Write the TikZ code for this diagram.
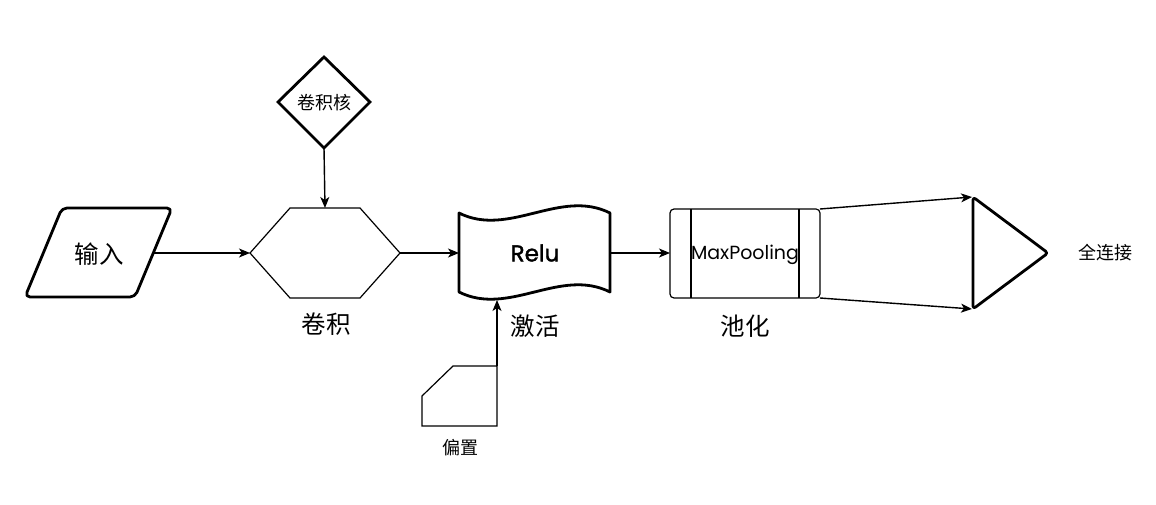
\documentclass[tikz,border=0pt]{standalone}
\usepackage{fontspec}
\setmainfont{Noto Sans CJK SC}
\newfontfamily\latinfont{Poppins}
\newfontfamily\relufont[FakeBold=1.5]{Poppins}
\usetikzlibrary{arrows.meta}
\begin{document}
\begin{tikzpicture}[x=1pt,y=-1pt,
  thickshape/.style={draw=black,line width=2.8pt,line join=round},
  thinshape/.style={draw=black,line width=1.2pt},
  conn/.style={draw=black,line width=1.4pt,-{Stealth[length=11pt,width=9pt,inset=3pt]}},
  biglabel/.style={font=\fontsize{24.5}{27}\selectfont,inner sep=0pt},
  smalllabel/.style={font=\fontsize{18}{20}\selectfont,inner sep=0pt}
]
\useasboundingbox (0,0) rectangle (1156,505);
\fill[white] (0,0) rectangle (1156,505);

% input parallelogram
\draw[thickshape,rounded corners=5pt] (62,208) -- (172,208) -- (135,297) -- (25,297) -- cycle;
\node[biglabel] (inp) at (99,254) {输入};
\coordinate (inpE) at (153,253);

% kernel diamond
\draw[thickshape,line join=miter] (324,57) -- (370,102) -- (324,148) -- (278,102) -- cycle;
\node[smalllabel] (ker) at (324,103) {卷积核};
\coordinate (kerS) at (324,148);

% convolution hexagon
\draw[thinshape] (250,253) -- (290,208) -- (360,208) -- (400,253) -- (360,298) -- (290,298) -- cycle;
\coordinate (convW) at (250,253);
\coordinate (convE) at (400,253);
\coordinate (convN) at (325,208);
\node[biglabel] (convlab) at (326,324) {卷积};

% relu tape
\draw[thickshape] (459,213) .. controls (509,238) and (560,188) .. (610,213)
  -- (610,292) .. controls (560,267) and (509,317) .. (459,292) -- cycle;
\node[font=\relufont\fontsize{23}{25}\selectfont,inner sep=0pt] (relu) at (535,253) {Relu};
\coordinate (reluW) at (459,253);
\coordinate (reluE) at (610,253);
\coordinate (reluS) at (497,300);
\node[biglabel] (actlab) at (535,326) {激活};

% bias card
\draw[thinshape] (453,366) -- (497,366) -- (497,426) -- (422,426) -- (422,396) -- cycle;
\coordinate (biasNE) at (497,366);
\node[smalllabel] (bias) at (460,448) {偏置};

% pooling process box
\draw[thinshape,rounded corners=4pt] (670,209) rectangle (820,298);
\draw[thinshape] (691,209) -- (691,298);
\draw[thinshape] (799,209) -- (799,298);
\node[font=\latinfont\fontsize{19}{21}\selectfont,inner sep=0pt] (pool) at (745,255) {MaxPooling};
\coordinate (poolW) at (670,253);
\coordinate (poolNE) at (820,209);
\coordinate (poolSE) at (820,298);
\node[biglabel] (poollab) at (745,326) {池化};

% fully connected triangle
\draw[thickshape,rounded corners=3pt] (973,197) -- (1048,253) -- (973,309) -- cycle;
\coordinate (triNW) at (972,197);
\coordinate (triSW) at (972,309);
\node[smalllabel] (fc) at (1105,253) {全连接};

% connectors
\draw[conn] (kerS) -- (convN);
\draw[conn] (inpE) -- (convW);
\draw[conn] (convE) -- (reluW);
\draw[conn] (reluE) -- (poolW);
\draw[conn] (biasNE) -- (reluS);
\draw[conn] (poolNE) -- (triNW);
\draw[conn] (poolSE) -- (triSW);
\end{tikzpicture}
\end{document}
